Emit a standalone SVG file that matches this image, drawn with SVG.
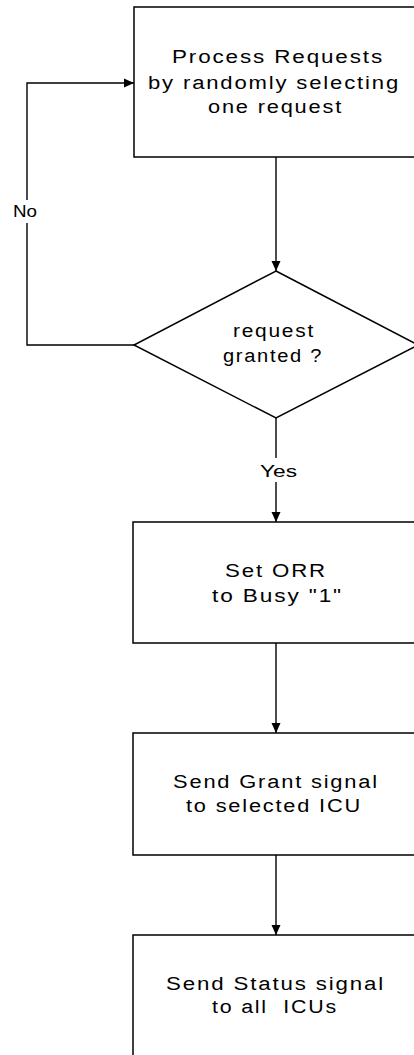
<svg xmlns="http://www.w3.org/2000/svg" width="414" height="1055" viewBox="0 0 414 1055">
<style>
.shape{fill:#fff;stroke:#000;stroke-width:1.5}
.wire{fill:none;stroke:#000;stroke-width:1.4}
.t{font-family:"Liberation Sans",Arial,sans-serif;font-size:18px;letter-spacing:1.5px;text-anchor:middle;fill:#000;white-space:pre}
.l{font-family:"Liberation Sans",Arial,sans-serif;font-size:17px;text-anchor:middle;fill:#000}
</style>
<defs>
<marker id="ah" markerWidth="10" markerHeight="10" refX="10" refY="5" orient="auto" markerUnits="userSpaceOnUse">
<path d="M0,0.5 L10,5 L0,9.5 Z" fill="#000"/>
</marker>
</defs>
<rect width="414" height="1055" fill="#fff"/>
<g id="connectors">
<line class="wire" x1="276" y1="157" x2="276" y2="271" marker-end="url(#ah)"/>
<polyline class="wire" points="134,345 27,345 27,223"/>
<polyline class="wire" points="27,200 27,83 134,83" marker-end="url(#ah)"/>
<line class="wire" x1="276" y1="418" x2="276" y2="458"/>
<line class="wire" x1="276" y1="482" x2="276" y2="522" marker-end="url(#ah)"/>
<line class="wire" x1="276" y1="643" x2="276" y2="733" marker-end="url(#ah)"/>
<line class="wire" x1="276" y1="855" x2="276" y2="935" marker-end="url(#ah)"/>
<text class="l" x="25" y="217" textLength="24" lengthAdjust="spacingAndGlyphs">No</text>
<text class="l" x="278.5" y="477" textLength="37" lengthAdjust="spacingAndGlyphs">Yes</text>
</g>
<g id="process">
<rect class="shape" x="134" y="7" width="285" height="150"/>
<text class="t" x="278" y="63" textLength="212" lengthAdjust="spacingAndGlyphs">Process Requests</text>
<text class="t" x="274" y="89" textLength="252" lengthAdjust="spacingAndGlyphs">by randomly selecting</text>
<text class="t" x="275.5" y="113" textLength="135" lengthAdjust="spacingAndGlyphs">one request</text>
</g>
<g id="decision">
<polygon class="shape" points="276,271 418,345 276,418 134,345"/>
<text class="t" x="274" y="337" textLength="82" lengthAdjust="spacingAndGlyphs">request</text>
<text class="t" x="273" y="362" textLength="100" lengthAdjust="spacingAndGlyphs">granted ?</text>
</g>
<g id="setorr">
<rect class="shape" x="133" y="522" width="286" height="121"/>
<text class="t" x="276" y="577" textLength="102" lengthAdjust="spacingAndGlyphs">Set ORR</text>
<text class="t" x="277.5" y="602" textLength="131" lengthAdjust="spacingAndGlyphs">to Busy "1"</text>
</g>
<g id="grant">
<rect class="shape" x="133" y="733" width="286" height="122"/>
<text class="t" x="276" y="788" textLength="206" lengthAdjust="spacingAndGlyphs">Send Grant signal</text>
<text class="t" x="274" y="812" textLength="176" lengthAdjust="spacingAndGlyphs">to selected ICU</text>
</g>
<g id="status">
<rect class="shape" x="133" y="935" width="286" height="130"/>
<text class="t" x="275.5" y="990" textLength="219" lengthAdjust="spacingAndGlyphs">Send Status signal</text>
<text class="t" x="275" y="1013" textLength="126" lengthAdjust="spacingAndGlyphs" xml:space="preserve">to all  ICUs</text>
</g>
</svg>
